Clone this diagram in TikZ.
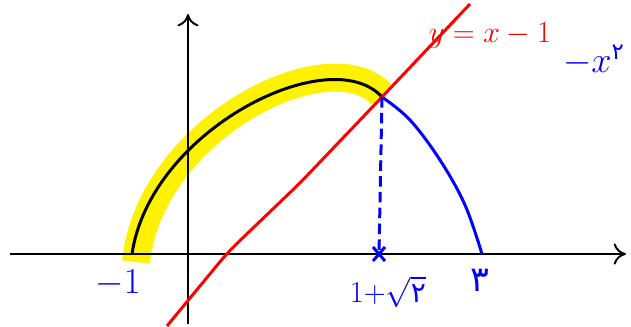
\documentclass[tikz,border=0pt]{standalone}
\usepackage{fontspec}
\usetikzlibrary{arrows.meta,calc}
\newfontfamily\farsi[Script=Arabic]{DejaVu Sans}
\begin{document}
\begin{tikzpicture}[x=0.2mm,y=-0.2mm,
    axis/.style={line width=1.1pt,-{To[length=7pt,width=12pt]}},
    curve/.style={line width=1.7pt},
    lbl/.style={font=\fontsize{20}{24}\selectfont}]
  \useasboundingbox (0,0) rectangle (631,326);
  % Points
  \coordinate (A) at (132,254);
  \coordinate (P) at (382,97);
  \coordinate (X) at (379,254);
  \coordinate (B) at (482,254);
  % Axes
  \coordinate (xl) at (10,254);  \coordinate (xr) at (626,254);
  \coordinate (yb) at (188,324); \coordinate (yt) at (188,14);
  % Surlignage
  \draw[yellow, line width=5.6mm] (136,262) .. controls (150,128) and (330,38) .. (382,95);
  \draw[axis] (xl) -- (xr);
  \draw[axis] (yb) -- (yt);
  % Arc noir
  \draw[curve, black] (A) .. controls (150,130) and (330,40) .. (P);
  % Arc bleu
  \draw[curve, blue] plot[smooth, tension=0.6] coordinates
    {(P) (410,120) (440,160) (465,205) (B)};
  % Droite y=x-1
  \draw[curve, red, rounded corners=8pt] (167,326) -- (228,252) -- (300,183)
    -- (P) -- (470,4);
  % Projection
  \draw[curve, blue, dash pattern=on 6pt off 3pt] (P) -- (X);
  \draw[curve, blue] ($(X)+(-6,-7)$) -- ($(X)+(6,7)$);
  \draw[curve, blue] ($(X)+(6,-7)$) -- ($(X)+(-6,7)$);
  % Etiquettes
  \node[lbl, blue] (lm1) at (118,283) {$-1$};
  \node[lbl, blue, font=\fontsize{16}{20}\selectfont] (lr) at (388,292)
    {$1{+}\sqrt{\mbox{\farsi ۲}}$};
  \node[lbl, blue] (l3) at (480,280) {\farsi ۳};
  \node[lbl, red, font=\fontsize{18}{22}\selectfont] (ly) at (490,36) {$y=x-1$};
  \node[lbl, blue, font=\fontsize{22}{26}\selectfont] (lx) at (594,60)
    {$-x^{\mbox{\farsi\fontsize{13}{15}\selectfont ۲}}$};
\end{tikzpicture}
\end{document}
